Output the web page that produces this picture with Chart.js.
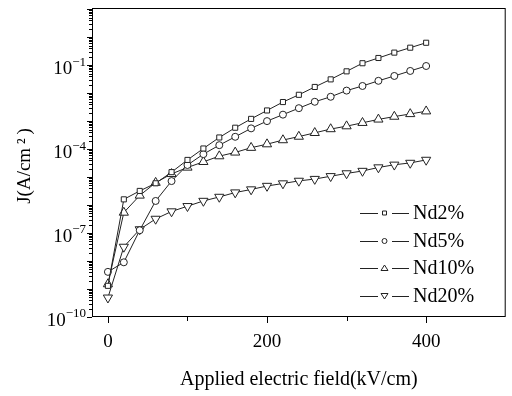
<!DOCTYPE html>
<html>
<head>
<meta charset="utf-8">
<script src="https://cdn.jsdelivr.net/npm/chart.js@4.4.0/dist/chart.umd.min.js"></script>
<style>
  body { margin: 0; background: #fff; }
  #wrap { width: 512px; height: 396px; }
</style>
</head>
<body>
<div id="wrap"><canvas id="jeChart"></canvas></div>
<script>
// applied field, kV/cm
var field = [0, 20, 40, 60, 80, 100, 120, 140, 160, 180, 200,
  220, 240, 260, 280, 300, 320, 340, 360, 380, 400];

// current density J (A/cm2)
var nd2 = [1.3e-9, 1.6e-6, 3.2e-6, 6.0e-6, 1.5e-5, 4.1e-5, 1.05e-4, 2.6e-4, 5.8e-4, 1.2e-3, 2.4e-3,
  4.8e-3, 8.7e-3, 1.66e-2, 3.1e-2, 6.0e-2, 0.117, 0.18, 0.28, 0.42, 0.63];
var nd5 = [4.1e-9, 9e-9, 1.26e-7, 1.4e-6, 7.2e-6, 2.7e-5, 6.6e-5, 1.38e-4, 2.75e-4, 5.5e-4, 1.0e-3,
  1.7e-3, 2.9e-3, 4.9e-3, 7.4e-3, 1.23e-2, 1.8e-2, 2.75e-2, 4.1e-2, 6.2e-2, 9.3e-2];
var nd10 = [1.5e-9, 5.4e-7, 2.2e-6, 6.3e-6, 1.3e-5, 2.2e-5, 3.5e-5, 5.6e-5, 7.6e-5, 1.12e-4, 1.5e-4,
  2.1e-4, 2.8e-4, 3.8e-4, 5.2e-4, 6.6e-4, 8.7e-4, 1.15e-3, 1.45e-3, 1.8e-3, 2.25e-3];
var nd20 = [4.9e-10, 3.2e-8, 1.35e-7, 3.2e-7, 5.9e-7, 9.1e-7, 1.4e-6, 1.95e-6, 2.8e-6, 3.6e-6, 4.8e-6,
  5.9e-6, 7.3e-6, 8.5e-6, 1.07e-5, 1.35e-5, 1.65e-5, 2.2e-5, 2.75e-5, 3.2e-5, 4.1e-5];

var seriesNames = ["Nd2%", "Nd5%", "Nd10%", "Nd20%"];
var xTickValues = [0, 200, 400];
var yLabelExponents = [-10, -7, -4, -1];

var serif = '"Liberation Serif", "Times New Roman", serif';
var ink = "#222";

function toPoints(values) {
  return values.map(function (v, i) {
    return { x: field[i], y: v };
  });
}

function makeSet(label, values, style, radius, rotation) {
  return {
    label: label,
    data: toPoints(values),
    borderColor: ink,
    borderWidth: 1,
    pointStyle: style,
    pointRadius: radius,
    pointRotation: rotation,
    pointBorderColor: ink,
    pointBorderWidth: 1,
    pointBackgroundColor: "#fff",
    tension: 0,
  };
}

// frame, log ticks, superscript labels, y title and legend
var decorations = {
  id: "decorations",
  afterDraw: function (chart) {
    var ctx = chart.ctx;
    var a = chart.chartArea;
    var xs = chart.scales.x;
    var ys = chart.scales.y;
    ctx.save();
    ctx.strokeStyle = "#000";
    ctx.fillStyle = "#000";
    ctx.lineWidth = 1;
    ctx.strokeRect(a.left + 0.5, a.top + 0.5, a.right - a.left - 1, a.bottom - a.top - 1);

    ctx.beginPath();
    for (var v = 0; v <= 400; v += 100) {
      var px = Math.round(xs.getPixelForValue(v)) + 0.5;
      var len = v % 200 === 0 ? 6 : 4;
      ctx.moveTo(px, a.bottom);
      ctx.lineTo(px, a.bottom + len);
    }
    for (var e = -10; e <= 1; e++) {
      for (var k = 1; k <= 9; k++) {
        var val = k * Math.pow(10, e);
        if (val > ys.max) break;
        var py = Math.round(ys.getPixelForValue(val)) + 0.5;
        var tl = k === 1 ? 5 : 3;
        ctx.moveTo(a.left - tl, py);
        ctx.lineTo(a.left, py);
      }
    }
    ctx.stroke();

    // y tick labels 10^n
    ctx.textBaseline = "middle";
    ctx.textAlign = "right";
    yLabelExponents.forEach(function (ex) {
      var py = ys.getPixelForValue(Math.pow(10, ex));
      var sup = "\u2212" + Math.abs(ex);
      ctx.font = "13px " + serif;
      var sw = ctx.measureText(sup).width;
      ctx.fillText(sup, 86, py - 3);
      ctx.font = "19px " + serif;
      ctx.fillText("10", 86 - sw, py + 4);
    });

    // y title
    ctx.save();
    ctx.translate(25, 166);
    ctx.rotate(-Math.PI / 2);
    ctx.textAlign = "center";
    ctx.font = "19px " + serif;
    ctx.fillText("J(A/cm\u2009\u00B2\u2009)", 0, 0);
    ctx.restore();

    // legend
    var rows = [213, 241, 268, 296];
    ctx.strokeStyle = ink;
    seriesNames.forEach(function (name, i) {
      var y = rows[i];
      ctx.beginPath();
      ctx.moveTo(360, y + 0.5);
      ctx.lineTo(378, y + 0.5);
      ctx.moveTo(392, y + 0.5);
      ctx.lineTo(409, y + 0.5);
      ctx.stroke();
      var cx = 384.5;
      ctx.beginPath();
      if (i === 0) {
        ctx.rect(cx - 2, y - 2, 4, 4);
      } else if (i === 1) {
        ctx.arc(cx, y, 2.5, 0, Math.PI * 2);
      } else if (i === 2) {
        ctx.moveTo(cx, y - 3);
        ctx.lineTo(cx + 3.5, y + 2.5);
        ctx.lineTo(cx - 3.5, y + 2.5);
        ctx.closePath();
      } else {
        ctx.moveTo(cx, y + 3);
        ctx.lineTo(cx + 3.5, y - 2.5);
        ctx.lineTo(cx - 3.5, y - 2.5);
        ctx.closePath();
      }
      ctx.stroke();
      ctx.fillStyle = "#000";
      ctx.textAlign = "left";
      ctx.font = "20px " + serif;
      ctx.fillText(name, 413, y + 1);
    });
    ctx.restore();
  },
};

new Chart(document.getElementById("jeChart"), {
  type: "line",
  data: {
    datasets: [
      makeSet(seriesNames[0], nd2, "rect", 3.6, 0),
      makeSet(seriesNames[1], nd5, "circle", 3.5, 0),
      makeSet(seriesNames[2], nd10, "triangle", 5.3, 0),
      makeSet(seriesNames[3], nd20, "triangle", 5.3, 180),
    ],
  },
  options: {
    responsive: true,
    maintainAspectRatio: false,
    animation: false,
    layout: { padding: { top: 8, right: 2 } },
    plugins: {
      legend: { display: false },
      tooltip: { enabled: false },
    },
    scales: {
      x: {
        type: "linear",
        min: -20,
        max: 500,
        afterBuildTicks: function (scale) {
          scale.ticks = xTickValues.map(function (v) {
            return { value: v };
          });
        },
        afterFit: function (scale) {
          scale.height = 79;
        },
        grid: { display: false },
        border: { display: false },
        ticks: {
          padding: 6,
          maxRotation: 0,
          color: "#000",
          font: { family: serif, size: 19 },
        },
        title: {
          display: true,
          text: "Applied electric field(kV/cm)",
          color: "#000",
          font: { family: serif, size: 20 },
          padding: { top: 0, bottom: 4 },
        },
      },
      y: {
        type: "logarithmic",
        min: 1e-10,
        max: 11,
        afterFit: function (scale) {
          scale.width = 92;
        },
        grid: { display: false },
        border: { display: false },
        ticks: { display: false },
      },
    },
  },
  plugins: [decorations],
});
</script>
</body>
</html>
